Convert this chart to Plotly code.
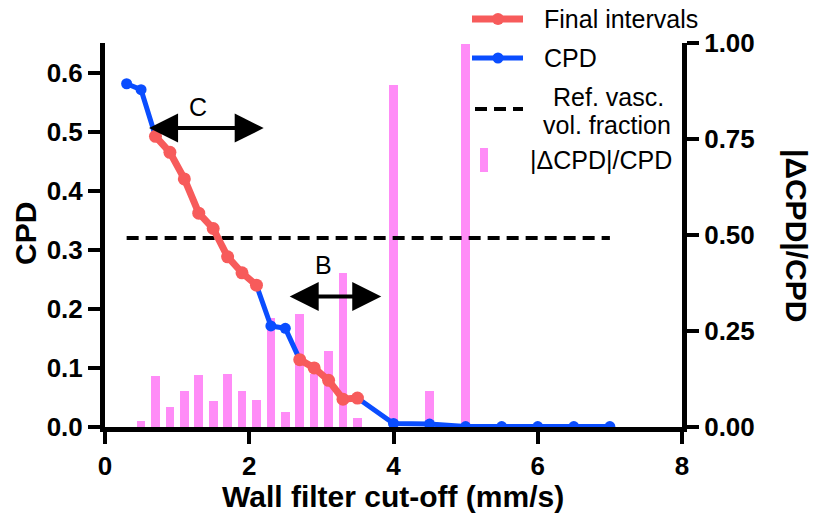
import plotly.graph_objects as go

# Wall filter cut-off (mm/s) and measured CPD
cutoff = [0.3, 0.5, 0.7, 0.9, 1.1, 1.3, 1.5, 1.7, 1.9, 2.1, 2.3, 2.5,
          2.7, 2.9, 3.1, 3.3, 3.5, 4.0, 4.5, 5.0, 5.5, 6.0, 6.5, 7.0]
cpd = [0.581, 0.571, 0.492, 0.465, 0.420, 0.362, 0.336, 0.288, 0.261, 0.240, 0.171, 0.167,
       0.114, 0.100, 0.079, 0.047, 0.049, 0.006, 0.005, 0.0008, 0.0008, 0.0008, 0.0008, 0.0008]

# Cut-off ranges retained as final intervals
final_intervals = [(0.7, 2.1), (2.7, 3.5)]

# Relative change |dCPD|/CPD between consecutive cut-offs
change_x = [0.5, 0.7, 0.9, 1.1, 1.3, 1.5, 1.7, 1.9, 2.1, 2.3, 2.5,
            2.7, 2.9, 3.1, 3.3, 3.5, 4.0, 4.5, 5.0]
rel_change = [0.016, 0.133, 0.051, 0.094, 0.135, 0.068, 0.137, 0.095, 0.070, 0.283, 0.038,
              0.294, 0.138, 0.199, 0.400, 0.023, 0.891, 0.094, 0.997]

# Reference vascular volume fraction
ref_x = [0.3, 7.0]
ref_vvf = 0.32

# Interval arrows: (label, x_start, x_end, y, label_x, label_y)
arrows = [("C", 0.59, 2.20, 0.506, 1.29, 0.541),
          ("B", 2.54, 3.83, 0.221, 3.03, 0.274)]

RED = "#F75B5B"
BLUE = "#0A4DFF"
PINK = "#FF8CF7"
FONT = "Liberation Sans, Arial, sans-serif"

# red overlay points, broken between intervals
red_x, red_y = [], []
for lo, hi in final_intervals:
    if red_x:
        red_x.append(None)
        red_y.append(None)
    for xv, yv in zip(cutoff, cpd):
        if lo - 1e-9 <= xv <= hi + 1e-9:
            red_x.append(xv)
            red_y.append(yv)

fig = go.Figure()

fig.add_trace(go.Bar(x=change_x, y=rel_change, width=0.12, marker_color=PINK,
                     marker_line_width=0, yaxis="y", name="|ΔCPD|/CPD", showlegend=False))
fig.add_trace(go.Scatter(x=ref_x, y=[ref_vvf] * len(ref_x), mode="lines", yaxis="y2",
                         line=dict(color="black", width=4, dash="12px,7px"),
                         name="Ref. vasc. vol. fraction", showlegend=False))
fig.add_trace(go.Scatter(x=cutoff, y=cpd, mode="lines+markers", yaxis="y2",
                         line=dict(color=BLUE, width=5), marker=dict(color=BLUE, size=11),
                         name="CPD", showlegend=False))
fig.add_trace(go.Scatter(x=red_x, y=red_y, mode="lines+markers", yaxis="y2",
                         line=dict(color=RED, width=7), marker=dict(color=RED, size=13),
                         name="Final intervals", showlegend=False, connectgaps=False))

L, R, T, B = 105, 139, 43, 95
W, H = 821, 522
PW, PH = W - L - R, H - T - B


def paper(px, py):
    return (px - L) / PW, (H - B - py) / PH


annotations = []
shapes = []

for label, x0, x1, y, lx, ly in arrows:
    annotations.append(dict(x=x1, y=y, ax=x0, ay=y, xref="x", yref="y2", axref="x", ayref="y2",
                            text="", showarrow=True, arrowside="end+start", arrowhead=2,
                            startarrowhead=2, arrowwidth=4, arrowsize=1.45, startarrowsize=1.45,
                            arrowcolor="black"))
    annotations.append(dict(x=lx, y=ly, xref="x", yref="y2", text=label, showarrow=False,
                            font=dict(family=FONT, size=25, color="black")))

# axis titles
ax_title = dict(family=FONT, size=30, color="black", weight="bold")


def title(px, py, text, angle=0):
    xp, yp = paper(px, py)
    annotations.append(dict(x=xp, y=yp, xref="paper", yref="paper", text=text, textangle=angle,
                            xanchor="center", yanchor="middle", showarrow=False, font=ax_title))


title(393, 496, "Wall filter cut-off (mm/s)")
title(25, 234, "CPD", -90)
title(797, 235, "|ΔCPD|/CPD", 90)

# legend
leg_font = dict(family=FONT, size=25, color="black")


def leg_text(px, py, text, anchor="left"):
    xp, yp = paper(px, py)
    annotations.append(dict(x=xp, y=yp, xref="paper", yref="paper", text=text, showarrow=False,
                            xanchor=anchor, yanchor="middle", font=leg_font))


def leg_line(px0, px1, py, color, width, dash="solid"):
    x0, y0 = paper(px0, py)
    x1, _ = paper(px1, py)
    shapes.append(dict(type="line", xref="paper", yref="paper", x0=x0, x1=x1, y0=y0, y1=y0,
                       line=dict(color=color, width=width, dash=dash)))


def leg_dot(px, py, d, color):
    x0, y0 = paper(px - d / 2, py + d / 2)
    x1, y1 = paper(px + d / 2, py - d / 2)
    shapes.append(dict(type="circle", xref="paper", yref="paper", x0=x0, x1=x1, y0=y0, y1=y1,
                       fillcolor=color, line=dict(width=0)))


leg_line(472, 523, 19, RED, 7)
leg_dot(498, 19, 12, RED)
leg_text(542, 19, "Final intervals")
leg_line(472, 523, 58, BLUE, 5)
leg_dot(498, 58, 11, BLUE)
leg_text(542, 58, "CPD")
leg_line(475, 523, 109, "black", 4, "12px,7px")
leg_text(608, 97, "Ref. vasc.", "center")
leg_text(607, 125, "vol. fraction", "center")
x0, y0 = paper(480, 148)
x1, y1 = paper(488, 172)
shapes.append(dict(type="rect", xref="paper", yref="paper", x0=x0, x1=x1, y0=y0, y1=y1,
                   fillcolor=PINK, line=dict(width=0)))
leg_text(528, 160, "|ΔCPD|/CPD")

tick_font = dict(family=FONT, size=26, color="black", weight="bold")
axis_common = dict(showgrid=False, zeroline=False, showline=True, linecolor="black", linewidth=5,
                   ticks="outside", ticklen=12, tickwidth=4, tickcolor="black", tickfont=tick_font)

fig.update_layout(
    width=W, height=H,
    margin=dict(l=L, r=R, t=T, b=B, pad=0),
    paper_bgcolor="white", plot_bgcolor="white",
    showlegend=False,
    bargap=0,
    xaxis=dict(range=[0, 8], tickvals=[0, 2, 4, 6, 8], **axis_common),
    yaxis=dict(range=[0, 1], side="right", tickvals=[0, 0.25, 0.5, 0.75, 1.0], tickformat=".2f",
               **axis_common),
    yaxis2=dict(range=[0, 0.65], side="left", overlaying="y",
                tickvals=[0, 0.1, 0.2, 0.3, 0.4, 0.5, 0.6], tickformat=".1f", **axis_common),
    annotations=annotations,
    shapes=shapes,
)

fig.write_html("out.html")
